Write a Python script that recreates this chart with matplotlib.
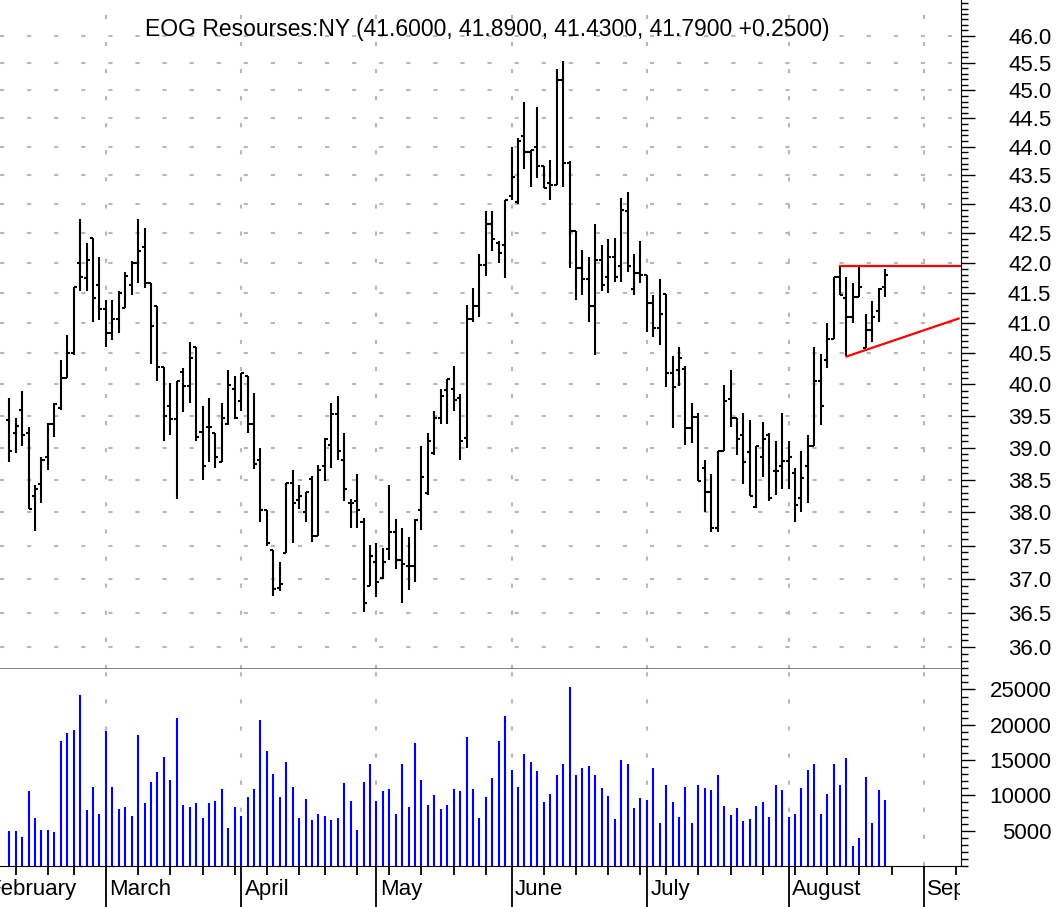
import numpy as np
import pandas as pd
import matplotlib
matplotlib.use("Agg")
import matplotlib.pyplot as plt
from matplotlib import ticker
from matplotlib.patches import Rectangle
from matplotlib.transforms import blended_transform_factory

plt.rcParams['font.family'] = ['Liberation Sans', 'DejaVu Sans']

# daily bars, EOG, 7 Feb 2003 .. 22 Aug 2003
opens = [39.43, 39.23, 39.60, 39.23, 38.25, 38.44, 38.86, 39.37, 39.62, 40.11,
         40.51, 42.00, 41.75, 42.41, 41.63, 41.22, 40.83, 41.06, 41.25, 41.63,
         41.99, 42.27, 41.66, 41.27, 40.28, 39.65, 39.45, 40.20, 39.98, 40.61,
         39.25, 39.32, 39.23, 38.77, 39.37, 39.93, 39.73, 40.13, 39.37, 38.80,
         38.03, 37.44, 36.87, 37.39, 38.45, 38.19, 38.00, 38.51, 37.64, 38.72,
         39.04, 39.53, 38.80, 38.14, 38.18, 37.85, 36.90, 37.25, 37.01, 37.45,
         37.71, 37.29, 37.20, 37.20, 38.03, 38.29, 38.91, 39.46, 39.91, 39.93,
         39.78, 39.15, 41.06, 41.28, 41.96, 42.66, 42.34, 42.30, 43.13, 43.04,
         44.19, 43.91, 44.00, 43.66, 43.37, 43.33, 45.19, 43.71, 42.53, 41.91,
         41.72, 41.27, 42.05, 41.76, 42.10, 41.95, 42.87, 41.56, 41.82, 41.79,
         41.33, 40.91, 41.47, 40.19, 40.23, 40.24, 39.30, 39.48, 38.69, 38.31,
         37.76, 38.95, 39.76, 39.46, 39.19, 38.93, 38.08, 38.86, 39.19, 38.63,
         38.71, 38.79, 38.61, 38.22, 38.71, 39.02, 40.05, 40.40, 40.74, 41.76,
         41.41, 41.10, 41.43, 40.58, 40.88, 41.19, 41.60]
highs = [39.78, 39.46, 39.90, 39.32, 38.42, 38.86, 39.38, 39.70, 40.40, 40.80,
         41.60, 42.74, 42.34, 42.41, 42.09, 41.38, 41.38, 41.52, 41.85, 42.02,
         42.74, 42.58, 41.66, 41.28, 40.28, 40.02, 40.05, 40.26, 40.68, 40.61,
         39.65, 39.78, 39.23, 39.70, 40.23, 40.13, 40.19, 40.13, 39.86, 38.99,
         38.03, 37.44, 37.25, 38.45, 38.65, 38.42, 38.31, 38.56, 38.73, 39.15,
         39.70, 39.82, 39.23, 38.20, 38.59, 37.91, 37.51, 37.54, 37.46, 38.42,
         37.90, 37.77, 37.63, 37.90, 39.02, 39.23, 39.58, 39.92, 40.08, 40.30,
         39.84, 41.30, 41.57, 42.15, 42.87, 42.87, 42.36, 43.07, 43.99, 44.15,
         44.80, 43.94, 44.70, 43.66, 43.76, 45.38, 45.53, 43.74, 42.53, 42.21,
         42.10, 42.66, 42.30, 42.40, 42.41, 43.10, 43.20, 42.15, 42.37, 41.79,
         41.46, 41.72, 41.47, 40.45, 40.61, 40.29, 39.71, 39.55, 38.80, 38.59,
         38.95, 39.99, 40.23, 39.46, 39.55, 39.44, 39.02, 39.41, 39.23, 39.10,
         39.55, 39.10, 38.69, 38.95, 39.19, 40.60, 40.49, 40.99, 41.76, 41.95,
         41.76, 41.66, 41.94, 41.15, 41.36, 41.57, 41.89]
lows = [38.77, 38.91, 39.03, 38.06, 37.72, 38.14, 38.65, 39.16, 39.60, 40.11,
        40.48, 41.53, 41.53, 41.01, 41.05, 40.61, 40.72, 40.83, 41.24, 41.46,
        41.66, 41.57, 40.33, 40.05, 39.10, 39.19, 38.20, 39.56, 39.70, 39.10,
        38.50, 38.77, 38.69, 38.77, 39.36, 39.45, 39.57, 39.23, 38.66, 37.85,
        37.49, 36.75, 36.82, 37.39, 37.54, 38.05, 37.85, 37.56, 37.64, 38.48,
        38.69, 38.80, 38.17, 37.76, 37.76, 36.51, 36.90, 36.73, 37.00, 37.29,
        37.15, 36.64, 36.84, 36.96, 37.74, 38.27, 38.89, 39.37, 39.37, 39.58,
        38.80, 38.99, 41.02, 41.10, 41.78, 42.20, 42.00, 41.74, 43.06, 43.00,
        43.60, 43.30, 43.45, 43.27, 43.07, 43.33, 43.30, 41.91, 41.38, 41.46,
        41.02, 40.48, 41.53, 41.50, 41.68, 41.68, 41.84, 41.46, 41.66, 40.85,
        40.77, 40.64, 39.96, 39.31, 39.97, 39.04, 39.07, 38.48, 38.00, 37.71,
        37.71, 38.95, 39.33, 38.89, 38.44, 38.25, 38.07, 38.55, 38.17, 38.26,
        38.36, 38.36, 37.85, 38.00, 38.14, 39.02, 39.36, 40.26, 40.74, 41.46,
        40.45, 40.99, 41.43, 40.58, 40.69, 41.02, 41.43]
closes = [38.95, 39.34, 39.20, 38.06, 38.36, 38.80, 39.37, 39.69, 40.11, 40.51,
          41.60, 41.76, 42.05, 41.41, 41.22, 40.83, 41.06, 41.50, 41.77, 41.99,
          42.20, 41.66, 40.94, 40.28, 39.50, 39.45, 40.05, 39.98, 40.42, 39.16,
          38.71, 39.32, 38.85, 39.46, 39.99, 39.46, 40.18, 39.37, 38.75, 38.03,
          37.54, 36.85, 36.93, 38.45, 38.15, 38.25, 38.31, 37.64, 38.65, 39.13,
          39.53, 38.95, 38.36, 38.14, 38.03, 36.65, 37.34, 36.96, 37.25, 37.71,
          37.29, 37.22, 37.20, 37.89, 38.54, 39.10, 39.46, 39.82, 40.08, 39.75,
          39.10, 41.06, 41.28, 41.96, 42.66, 42.40, 42.17, 43.06, 43.46, 44.10,
          43.91, 43.94, 43.66, 43.27, 43.33, 45.19, 43.71, 42.53, 41.91, 41.72,
          41.27, 42.05, 41.63, 42.10, 41.76, 42.90, 41.95, 41.82, 41.79, 41.33,
          40.91, 41.15, 40.19, 39.96, 40.42, 39.30, 39.48, 38.48, 38.31, 37.76,
          38.95, 39.73, 39.46, 39.13, 38.77, 38.25, 39.02, 39.13, 38.22, 38.63,
          38.79, 38.86, 38.12, 38.53, 39.02, 40.05, 39.66, 40.74, 41.76, 41.46,
          41.10, 41.43, 41.59, 40.88, 41.10, 41.56, 41.79]
volumes = [4900, 4900, 4050, 10600, 6740, 5140, 5140, 4860, 17690, 18780,
           19300, 24250, 7870, 11130, 7310, 19060, 11130, 8110, 8390, 7020,
           18490, 8960, 11930, 13300, 15470, 12220, 20950, 8680, 8390, 8960,
           6740, 8960, 9240, 10850, 5420, 8390, 7020, 9760, 10850, 20660,
           16320, 13020, 9760, 14670, 11130, 6740, 9480, 6500, 7310, 7020,
           6500, 6740, 11700, 9240, 5140, 11930, 14390, 9240, 10600, 10850,
           7310, 14390, 8390, 17400, 12220, 8680, 10040, 8110, 8680, 10850,
           10600, 18210, 10850, 6740, 9760, 12500, 17690, 21230, 13580, 11130,
           15870, 14740, 13430, 9080, 10150, 12870, 14510, 25370, 12870, 13950,
           14230, 12870, 11000, 9920, 6640, 15020, 14510, 8280, 9640, 9360,
           13950, 6080, 11510, 9080, 6920, 11230, 6080, 11510, 11000, 10720,
           12870, 8510, 7200, 8280, 6360, 6640, 8510, 9080, 6920, 11510,
           10720, 6920, 7430, 11000, 13660, 14510, 7430, 10150, 14510, 11510,
           15300, 2840, 3920, 12590, 6080, 10720, 9360]

holidays = ["2003-02-17", "2003-04-18", "2003-05-26", "2003-07-04"]
month_names = ["February", "March", "April", "May", "June", "July", "August", "September"]
title = "EOG Resourses:NY (41.6000, 41.8900, 41.4300, 41.7900 +0.2500)"

# trend lines drawn on the chart (bar index, price)
resist_x = [129, 148]
resist_y = [41.95, 41.95]
support_x = [130, 147.4]
support_y = [40.45, 41.07]

# calendar: trading days, then plain weekdays after the last bar
past = pd.bdate_range("2003-02-03", "2003-08-22")
past = past[~past.isin(pd.to_datetime(holidays))]
future = pd.bdate_range("2003-08-25", "2003-09-30")
days = past.append(future)
xs_all = np.arange(len(days)) - 4          # bar 0 = 7 Feb
n = len(closes)
x = xs_all[4:4 + n]

month_start = [xs_all[i] for i in range(len(days)) if i == 0 or days[i].month != days[i - 1].month]
week_start = [xs_all[i] for i in range(len(days)) if i == 0 or days[i].weekday() < days[i - 1].weekday()]

W, H = 1061, 907
fig = plt.figure(figsize=(W / 100, H / 100), dpi=100)
ax = fig.add_axes([0, 1 - 669 / H, 961 / W, 669 / H])
axv = fig.add_axes([0, 1 - 866 / H, 961 / W, 197 / H])

x_min, x_max = -9.3 / 6.44, (961 - 9.3) / 6.44
grid_kw = dict(color='#b8b8b8', lw=1.5, linestyle=(0, (2, 11)), zorder=0)

# price panel
ax.set_yscale('log')
ax.set_xlim(x_min, x_max)
ax.set_ylim(35.69, 46.66)
for lvl in np.arange(36.0, 46.01, 0.5):
    ax.axhline(lvl, **grid_kw)
for m in month_start:
    ax.axvline(m, **grid_kw)
    axv.axvline(m, **grid_kw)

tk = 0.47
ax.vlines(x, lows, highs, color='black', lw=1.5, zorder=3)
ax.hlines(opens, x - tk, x, color='black', lw=1.5, zorder=3)
ax.hlines(closes, x, x + tk, color='black', lw=1.5, zorder=3)

ax.plot(resist_x, resist_y, color='red', lw=1.6, zorder=4)
ax.plot(support_x, support_y, color='red', lw=1.6, zorder=4)

ax.yaxis.tick_right()
ax.yaxis.set_major_locator(ticker.FixedLocator(np.arange(36.0, 46.01, 0.5)))
ax.yaxis.set_minor_locator(ticker.FixedLocator(np.arange(35.7, 46.65, 0.1)))
ax.yaxis.set_major_formatter(ticker.FormatStrFormatter('%.1f'))
ax.yaxis.set_minor_formatter(ticker.NullFormatter())
ax.tick_params(axis='y', which='major', length=10, width=1, labelsize=16, pad=55)
ax.tick_params(axis='y', which='minor', length=5, width=1)
for lbl in ax.get_yticklabels():
    lbl.set_horizontalalignment('right')
ax.set_xticks([])
for s in ['left', 'top']:
    ax.spines[s].set_visible(False)
ax.spines['bottom'].set_color('#606060')
ax.spines['bottom'].set_linewidth(1.1)
ax.spines['right'].set_color('black')

# volume panel
axv.set_xlim(x_min, x_max)
axv.set_ylim(0, 27900)
axv.vlines(x, 0, volumes, color='#0000ff', lw=1.5, zorder=3)
axv.yaxis.tick_right()
axv.yaxis.set_major_locator(ticker.FixedLocator([5000, 10000, 15000, 20000, 25000]))
axv.yaxis.set_minor_locator(ticker.MultipleLocator(1000))
axv.tick_params(axis='y', which='major', length=10, width=1, labelsize=16, pad=55)
axv.tick_params(axis='y', which='minor', length=5, width=1)
for lbl in axv.get_yticklabels():
    lbl.set_horizontalalignment('right')
axv.xaxis.set_major_locator(ticker.FixedLocator(month_start))
axv.xaxis.set_minor_locator(ticker.FixedLocator(week_start))
axv.xaxis.set_major_formatter(ticker.NullFormatter())
axv.tick_params(axis='x', which='major', length=32, width=1.3)
axv.tick_params(axis='x', which='minor', length=6.5, width=1.3)
for s in ['left', 'top']:
    axv.spines[s].set_visible(False)

# month names sit right of each month tick, clipped at the price scale
clip = Rectangle((0, 0), 960 / W, 1, transform=fig.transFigure)
lab_tr = blended_transform_factory(axv.transData, fig.transFigure)
for m, name in zip(month_start, month_names):
    t = axv.text(m + 0.55, 12 / H, name, fontsize=16, ha='left', va='baseline',
                 transform=lab_tr, clip_on=True)
    t.set_clip_path(clip)

fig.text(145 / W, 1 - 36 / H, title, fontsize=16.5, ha='left', va='baseline')

fig.savefig("out.png", dpi=100)
